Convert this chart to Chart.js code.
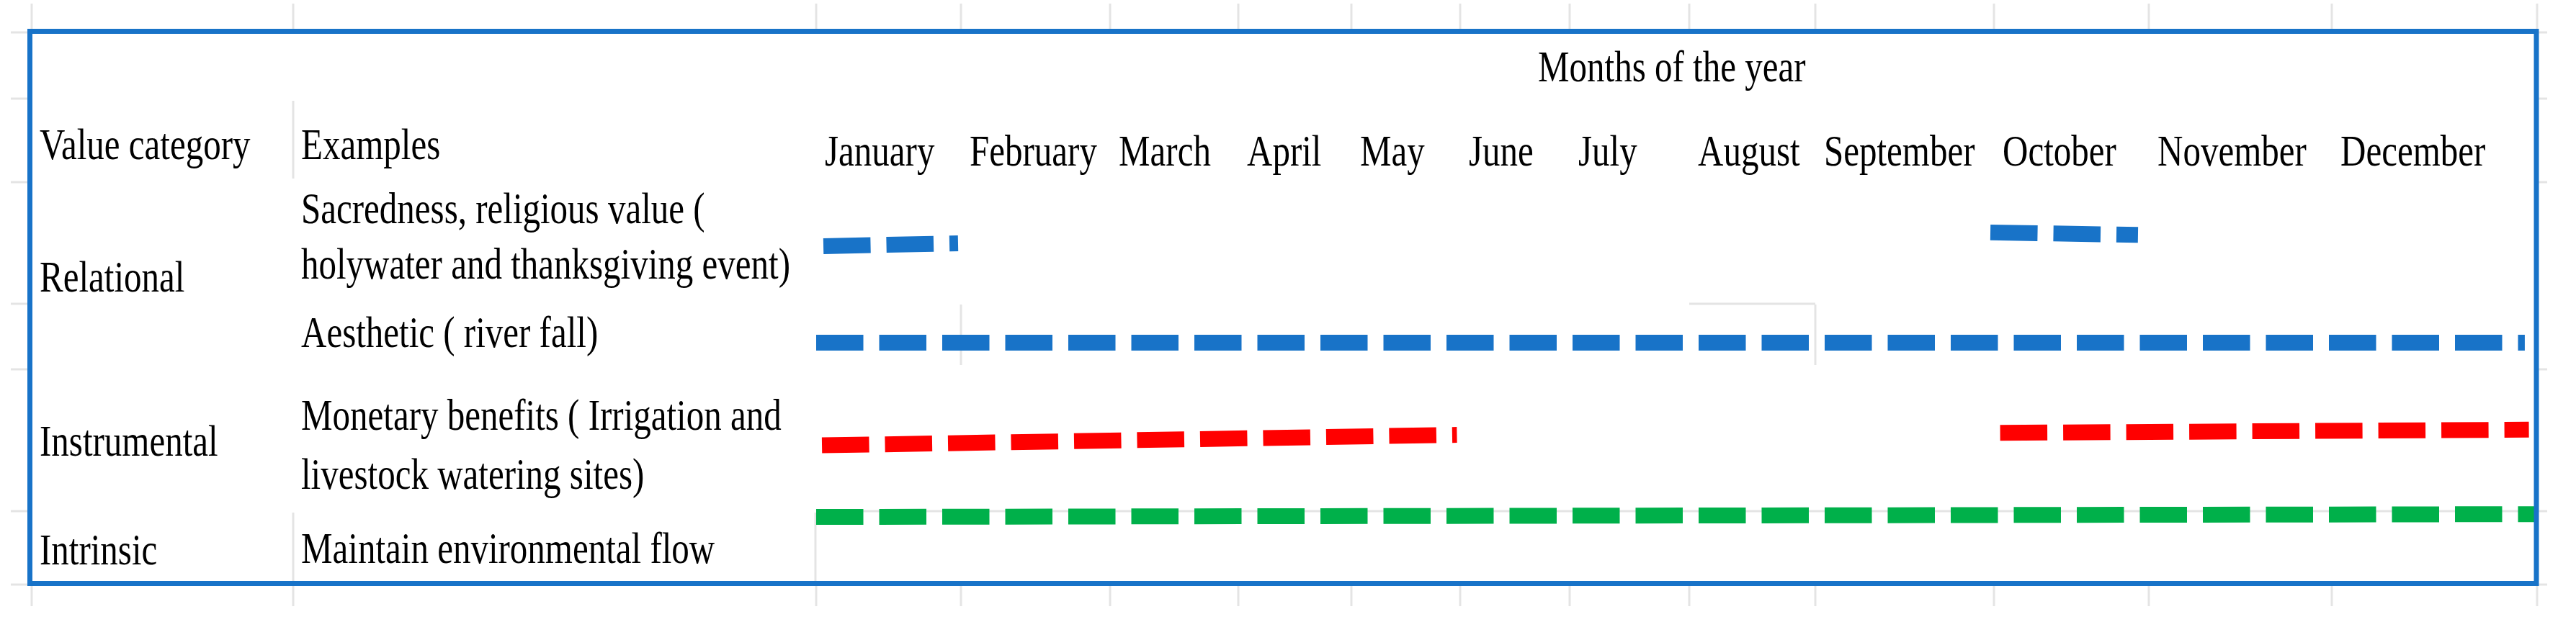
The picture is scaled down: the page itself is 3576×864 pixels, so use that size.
<!DOCTYPE html>
<html>
<head>
<meta charset="utf-8">
<title>Value categories by month</title>
<script src="https://cdn.jsdelivr.net/npm/chart.js@4.4.1/dist/chart.umd.min.js"></script>
<style>
  html, body { margin: 0; padding: 0; background: #fff; }
  #wrap { width: 3576px; height: 864px; position: relative; }
</style>
</head>
<body>
<div id="wrap"><canvas id="valueChart"></canvas></div>
<script>
// ---- data ----
const months = ['January', 'February', 'March', 'April', 'May', 'June', 'July',
                'August', 'September', 'October', 'November', 'December'];
const valueCategories = ['Relational', 'Instrumental', 'Intrinsic'];
const examples = [
    ['Sacredness, religious value (', 'holywater and thanksgiving event)'],
    ['Aesthetic ( river fall)'],
    ['Monetary benefits ( Irrigation and', 'livestock watering sites)'],
    ['Maintain environmental flow']
];

// x = months counted from the start of January, y = row level (0 top .. 10 bottom)
const sacredJan = [{x: 0.05, y: 1.59}, {x: 0.98, y: 1.52}];
const sacredOct = [{x: 8.98, y: 1.25}, {x: 9.93, y: 1.31}];
const aesthetic = [{x: 0.0, y: 3.99}, {x: 11.94, y: 3.99}];
const monetaryJan = [{x: 0.04, y: 6.54}, {x: 4.97, y: 6.28}];
const monetaryOct = [{x: 9.04, y: 6.23}, {x: 11.96, y: 6.15}];
const intrinsic = [{x: 0.0, y: 8.32}, {x: 12.0, y: 8.25}];

// ---- sheet layout ----
// month columns are not equally wide in the sheet
const monthColWidths = [201, 207, 178, 157, 151, 152, 166, 175, 248, 215, 254, 285];
const colEdges = [44, 407, 1133, 1334, 1541, 1719, 1876, 2027, 2179, 2345, 2520, 2768, 2983, 3237, 3522];
const rowEdges = [45, 137, 253, 422, 513, 710, 812];

const BLUE = '#1873C8';
const GRID = '#E4E4E4';
const FONT = '49px "Liberation Serif", "Times New Roman", serif';

// linear scale whose months follow the sheet column widths
const LinearBase = Chart.LinearScale || Chart.registry.getScale('linear');
class ColumnScale extends LinearBase {
    getPixelForValue(value) {
        const w = this.options.columnWidths || monthColWidths;
        const total = w.reduce((a, b) => a + b, 0);
        const i = Math.max(0, Math.min(w.length - 1, Math.floor(value)));
        let acc = 0;
        for (let k = 0; k < i; k++) acc += w[k];
        acc += (value - i) * w[i];
        return this.left + acc / total * (this.right - this.left);
    }
}
ColumnScale.id = 'column';
Chart.register(ColumnScale);

function sheetLine(ctx, x1, y1, x2, y2) {
    ctx.beginPath();
    ctx.moveTo(x1, y1);
    ctx.lineTo(x2, y2);
    ctx.stroke();
}

function cellText(ctx, str, x, y) {
    ctx.save();
    ctx.translate(x, y);
    ctx.scale(1, 1.26);
    ctx.fillText(str, 0, 0);
    ctx.restore();
}

const sheetGrid = {
    id: 'sheetGrid',
    beforeDraw(chart) {
        const ctx = chart.ctx;
        ctx.save();
        ctx.fillStyle = '#fff';
        ctx.fillRect(0, 0, chart.width, chart.height);
        ctx.strokeStyle = GRID;
        ctx.lineWidth = 3;
        // column lines above and below the box
        colEdges.forEach(x => {
            sheetLine(ctx, x, 5, x, 40);
            sheetLine(ctx, x, 814, x, 842);
        });
        // row stubs left and right of the box
        rowEdges.forEach(y => {
            sheetLine(ctx, 15, y, 38, y);
            if (y !== 422) sheetLine(ctx, 3524, y, 3536, y);
        });
        // visible cell borders inside the box
        sheetLine(ctx, 407, 140, 407, 248);
        sheetLine(ctx, 407, 712, 407, 808);
        sheetLine(ctx, 1132, 712, 1132, 808);
        sheetLine(ctx, 1133, 710, 3520, 710);
        sheetLine(ctx, 2345, 422, 2520, 422);
        sheetLine(ctx, 1334, 423, 1334, 507);
        sheetLine(ctx, 2520, 423, 2520, 507);
        ctx.restore();
    }
};

const sheetText = {
    id: 'sheetText',
    afterDatasetsDraw(chart) {
        const ctx = chart.ctx;
        const x = chart.scales.x;
        ctx.save();
        ctx.fillStyle = '#000';
        ctx.font = FONT;
        ctx.textBaseline = 'alphabetic';
        ctx.textAlign = 'left';

        cellText(ctx, 'Months of the year', 2135, 113);
        cellText(ctx, 'Value category', 55, 221);
        cellText(ctx, 'Examples', 418, 221);
        months.forEach((m, i) => cellText(ctx, m, x.getPixelForValue(i) + 12, 230));

        cellText(ctx, valueCategories[0], 55, 405);
        cellText(ctx, valueCategories[1], 55, 633);
        cellText(ctx, valueCategories[2], 55, 784);

        cellText(ctx, examples[0][0], 418, 310);
        cellText(ctx, examples[0][1], 418, 387);
        cellText(ctx, examples[1][0], 418, 482);
        cellText(ctx, examples[2][0], 418, 597);
        cellText(ctx, examples[2][1], 418, 679);
        cellText(ctx, examples[3][0], 418, 782);

        // blue box round the table
        ctx.strokeStyle = BLUE;
        ctx.lineWidth = 7;
        ctx.strokeRect(41.5, 43.5, 3479.5, 767);
        ctx.restore();
    }
};

function period(label, points, color) {
    return {
        label: label,
        data: points,
        borderColor: color,
        backgroundColor: color,
        borderWidth: 22,
        borderDash: [65.5, 22],
        borderCapStyle: 'butt',
        pointRadius: 0,
        tension: 0,
        fill: false,
        clip: false
    };
}

const data = {
    datasets: [
        period('Sacredness', sacredJan, BLUE),
        period('Sacredness', sacredOct, BLUE),
        period('Aesthetic', aesthetic, BLUE),
        period('Monetary benefits', monetaryJan, '#FF0000'),
        period('Monetary benefits', monetaryOct, '#FF0000'),
        period('Environmental flow', intrinsic, '#00B04A')
    ]
};

const config = {
    type: 'line',
    data: data,
    options: {
        responsive: true,
        maintainAspectRatio: false,
        animation: false,
        events: [],
        layout: {
            padding: { left: 1133, right: 54, top: 253, bottom: 52 }
        },
        scales: {
            x: { type: 'column', columnWidths: monthColWidths, min: 0, max: 12, display: false },
            y: { type: 'linear', min: 0, max: 10, reverse: true, display: false }
        },
        plugins: {
            legend: { display: false },
            tooltip: { enabled: false }
        }
    },
    plugins: [sheetGrid, sheetText]
};

new Chart(document.getElementById('valueChart').getContext('2d'), config);
</script>
</body>
</html>
